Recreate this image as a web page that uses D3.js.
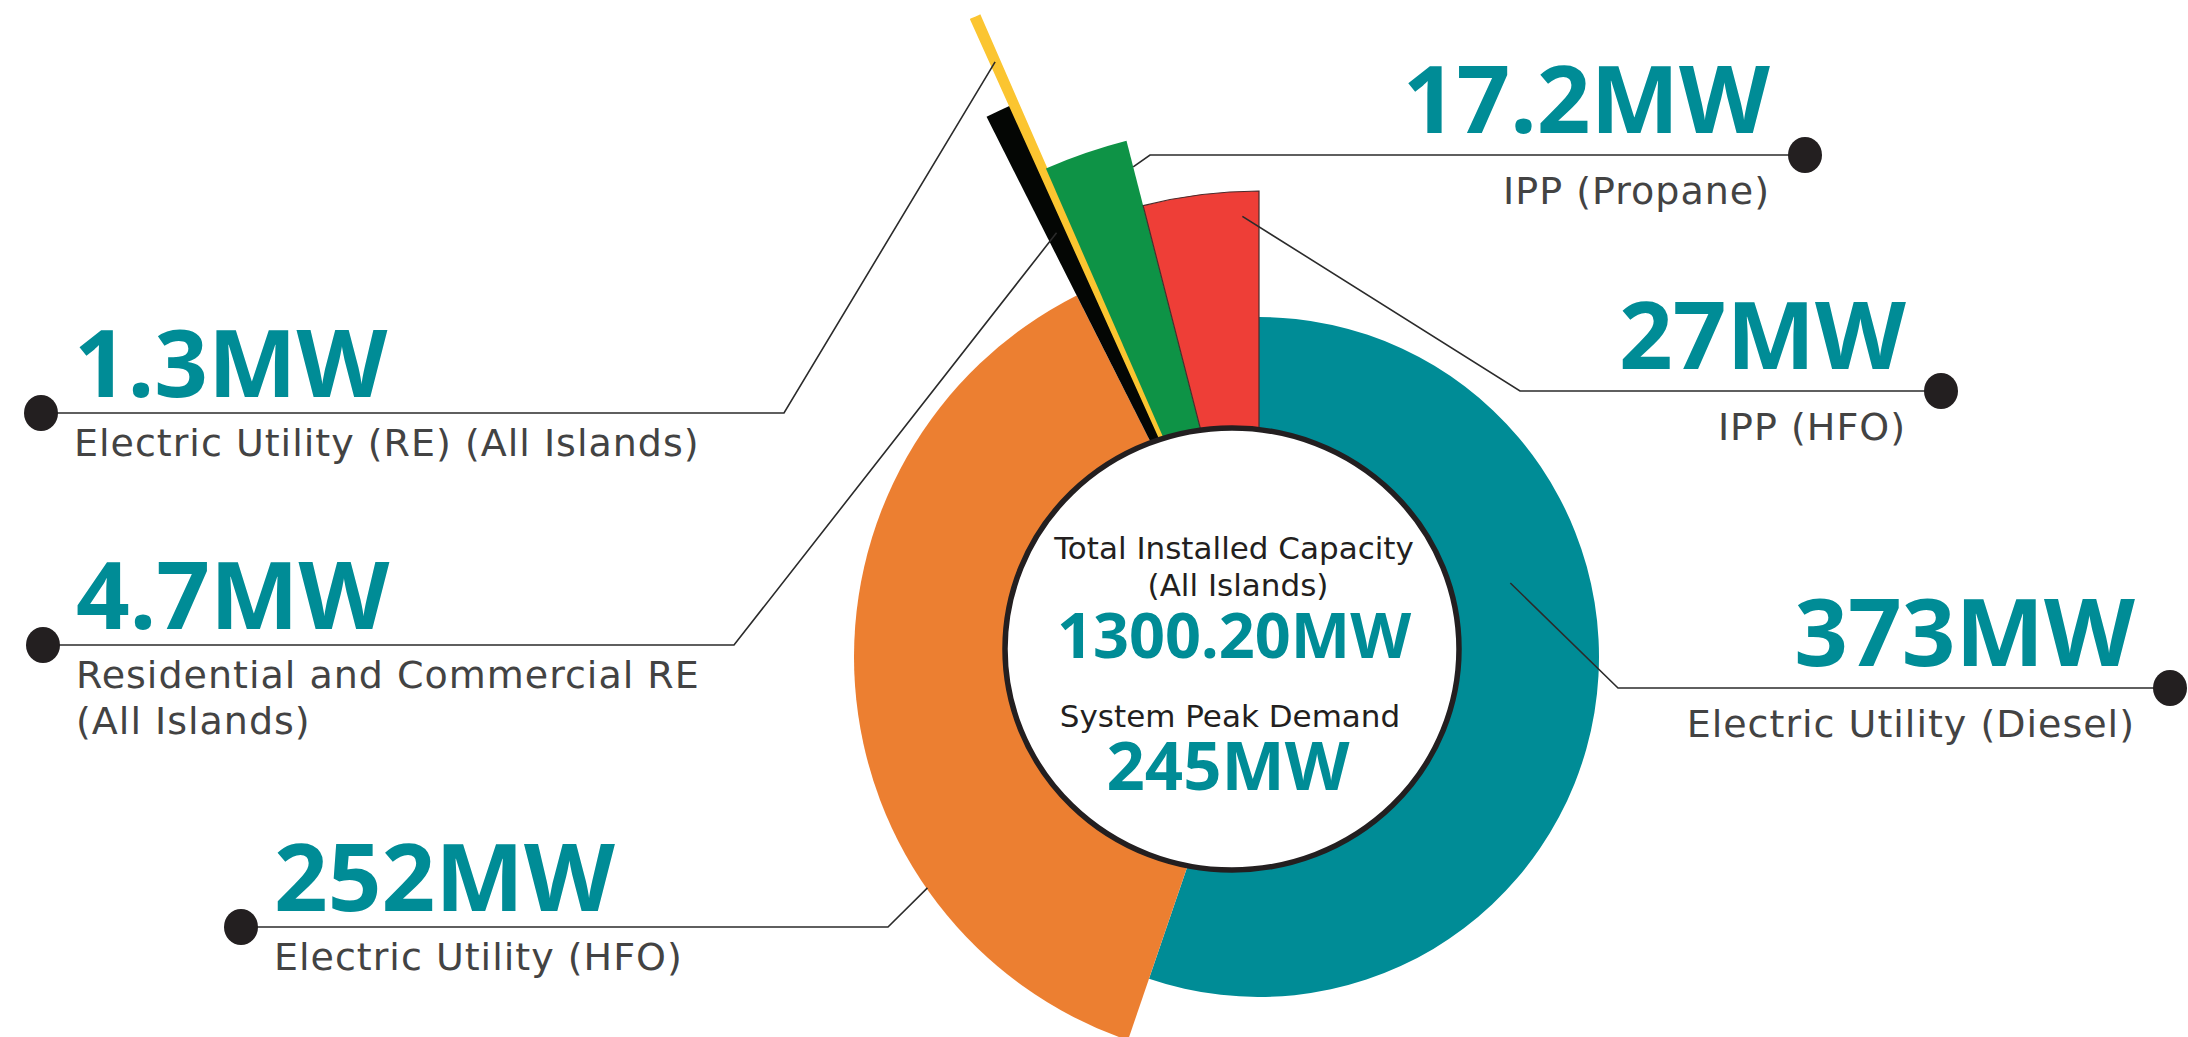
<!DOCTYPE html>
<html lang="en">
<head>
    <meta charset="UTF-8">
    <title>Installed Capacity</title>
    <script src="https://cdn.jsdelivr.net/npm/d3@7"></script>
    <style>
        body {
            margin: 0;
            background: #fff;
        }
        svg {
            display: block;
        }
        .value {
            font-family: "Noto Sans", sans-serif;
            font-weight: 700;
            font-size: 94px;
            fill: #008c96;
        }
        .label {
            font-family: "DejaVu Sans", sans-serif;
            font-size: 38px;
            letter-spacing: 1px;
            fill: #434343;
        }
        .center-small {
            font-family: "DejaVu Sans", sans-serif;
            font-size: 31px;
            fill: #231f20;
        }
        .center-big {
            font-family: "Noto Sans", sans-serif;
            font-weight: 700;
            fill: #008c96;
        }
    </style>
</head>
<body>
    <svg width="2188" height="1037"></svg>
    <script>
        // Data (MW), in drawing order clockwise from 12 o'clock
        const categories = ["Electric Utility (Diesel)", "Electric Utility (HFO)", "Residential and Commercial RE",
                            "Electric Utility (RE)", "IPP (Propane)", "IPP (HFO)"];
        const values = [373, 252, 4.7, 1.3, 17.2, 27];
        const valueLabels = ["373MW", "252MW", "4.7MW", "1.3MW", "17.2MW", "27MW"];
        const labelLines = [
            ["Electric Utility (Diesel)"],
            ["Electric Utility (HFO)"],
            ["Residential and Commercial RE", "(All Islands)"],
            ["Electric Utility (RE) (All Islands)"],
            ["IPP (Propane)"],
            ["IPP (HFO)"]
        ];
        const centerTitle = ["Total Installed Capacity", "(All Islands)"];
        const totalLabel = "1300.20MW";
        const peakTitle = "System Peak Demand";
        const peakLabel = "245MW";

        // Styling: colours and the outer radius of every slice
        const colors = ["#008c96", "#ec7f31", "#040604", "#fbc531", "#0e9346", "#ee3e37"];
        const outerRadii = [340, 405, 605, 699, 533, 466];

        // Where each leader line leaves its slice (t = position across the slice) and where it goes
        const callouts = [
            {t: 0.37, r: 262, elbowX: 1618, lineY: 688, dotX: 2170, side: "right"},
            {t: 0.27, r: 404, elbowX: 888,  lineY: 927, dotX: 241,  side: "left"},
            {t: 0.5,  r: 470, elbowX: 734,  lineY: 645, dotX: 43,   side: "left"},
            {t: 0.5,  r: 651, elbowX: 784,  lineY: 413, dotX: 41,   side: "left"},
            {t: 1.0,  r: 506, elbowX: 1150, lineY: 155, dotX: 1805, side: "right"},
            {t: 0.85, r: 441, elbowX: 1520, lineY: 391, dotX: 1941, side: "right"}
        ];

        const cx = 1259, cy = 657;          // pie centre
        const hx = 1232, hy = 649;          // centre of the white hub

        const svg = d3.select("svg");
        const g = svg.append("g").attr("transform", `translate(${cx},${cy})`);

        const pie = d3.pie().sort(null).value(d => d.value);
        const arcs = pie(values.map((v, i) => ({value: v, i: i})));

        const arc = d3.arc()
            .innerRadius(0)
            .outerRadius(d => outerRadii[d.data.i]);

        // Slices (the thin yellow one gets an outline so it reads as a stripe)
        g.selectAll(".slice")
            .data(arcs)
            .enter().append("path")
            .attr("class", "slice")
            .attr("d", arc)
            .attr("fill", d => colors[d.data.i])
            .attr("stroke", d => d.data.i === 5 ? "#4a2b2b" : d.data.i === 3 ? colors[3] : "none")
            .attr("stroke-width", d => d.data.i === 3 ? 3 : 1.2);

        // White hub with dark outline
        svg.append("ellipse")
            .attr("cx", hx)
            .attr("cy", hy)
            .attr("rx", 227)
            .attr("ry", 221)
            .attr("fill", "#fff")
            .attr("stroke", "#231f20")
            .attr("stroke-width", 5.5);

        // Centre text
        const center = svg.append("g").attr("text-anchor", "middle");
        center.append("text").attr("class", "center-small")
            .attr("x", hx + 2).attr("y", 559).text(centerTitle[0]);
        center.append("text").attr("class", "center-small")
            .attr("x", hx + 6).attr("y", 596).text(centerTitle[1]);
        center.append("text").attr("class", "center-big")
            .attr("x", hx + 2).attr("y", 658).style("font-size", "63px").text(totalLabel);
        center.append("text").attr("class", "center-small")
            .attr("x", hx - 2).attr("y", 727).text(peakTitle);
        center.append("text").attr("class", "center-big")
            .attr("x", hx - 4).attr("y", 790).style("font-size", "67px").text(peakLabel);

        // Leader lines, dots and labels
        const callG = svg.append("g");
        arcs.forEach(d => {
            const c = callouts[d.data.i];
            const a = d.startAngle + c.t * (d.endAngle - d.startAngle);
            const px = cx + c.r * Math.sin(a);
            const py = cy - c.r * Math.cos(a);

            callG.append("path")
                .attr("d", d3.line()([[px, py], [c.elbowX, c.lineY], [c.dotX, c.lineY]]))
                .attr("fill", "none")
                .attr("stroke", "#2b2b2b")
                .attr("stroke-width", 1.6);

            callG.append("ellipse")
                .attr("cx", c.dotX)
                .attr("cy", c.lineY)
                .attr("rx", 17)
                .attr("ry", 18)
                .attr("fill", "#231f20");

            const left = c.side === "left";
            const tx = left ? c.dotX + 33 : c.dotX - 35;
            const anchor = left ? "start" : "end";

            callG.append("text")
                .attr("class", "value")
                .attr("x", tx)
                .attr("y", c.lineY + (left ? -16 : -22))
                .attr("text-anchor", anchor)
                .text(valueLabels[d.data.i]);

            labelLines[d.data.i].forEach((line, k) => {
                callG.append("text")
                    .attr("class", "label")
                    .attr("x", tx)
                    .attr("y", c.lineY + (left ? 43 : 49) + k * 46)
                    .attr("text-anchor", anchor)
                    .text(line);
            });
        });
    </script>
</body>
</html>
